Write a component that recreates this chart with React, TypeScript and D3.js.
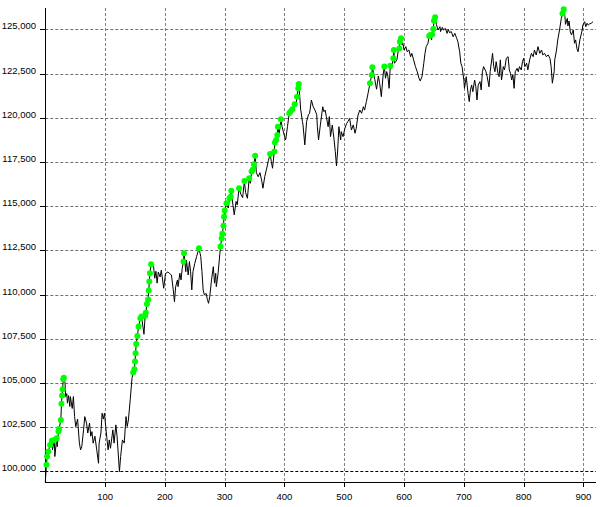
import React from "react";
import * as d3 from "d3";

// trade number (x) and account balance (y)
const tradeNo = [
	0, 2, 3, 5, 8, 11, 12, 15, 16, 19, 20, 22, 23, 26, 27, 28, 29, 30, 31, 33, 34, 36, 37, 39, 41, 42, 45, 47, 49,
	51, 54, 57, 59, 61, 64, 66, 69, 71, 74, 76, 78, 80, 83, 86, 89, 90, 93, 95, 97, 99, 101, 103, 105, 107, 109,
	113, 115, 118, 120, 124, 126, 129, 132, 135, 137, 139, 142, 145, 147, 149, 150, 151, 152, 154, 156, 159, 161,
	165, 167, 168, 170, 172, 173, 174, 175, 177, 181, 183, 185, 187, 189, 192, 194, 198, 201, 205, 208, 211, 214,
	216, 218, 221, 222, 225, 227, 229, 231, 232, 235, 236, 239, 241, 243, 245, 247, 250, 253, 257, 260, 262, 264,
	266, 269, 271, 273, 275, 278, 281, 283, 285, 286, 289, 292, 293, 295, 296, 298, 299, 300, 303, 306, 308, 310,
	311, 314, 316, 319, 321, 324, 327, 330, 333, 335, 338, 341, 343, 345, 347, 349, 351, 353, 356, 359, 362, 364,
	367, 370, 373, 376, 378, 380, 383, 384, 386, 388, 389, 391, 394, 396, 400, 402, 405, 408, 410, 413, 416, 417,
	419, 421, 423, 424, 426, 427, 430, 431, 434, 437, 440, 442, 445, 448, 451, 454, 455, 457, 460, 464, 466, 468,
	470, 473, 475, 477, 480, 483, 485, 487, 489, 491, 494, 495, 498, 501, 504, 506, 509, 512, 515, 518, 520, 523,
	526, 529, 532, 534, 537, 540, 543, 546, 547, 551, 554, 557, 559, 562, 565, 567, 569, 571, 573, 575, 577, 579,
	582, 583, 584, 586, 588, 590, 592, 593, 595, 597, 598, 600, 603, 605, 608, 611, 613, 616, 619, 622, 625, 627,
	630, 633, 635, 637, 640, 642, 644, 646, 647, 649, 650, 652, 654, 657, 660, 661, 664, 666, 669, 672, 674, 676,
	679, 682, 685, 688, 690, 693, 695, 697, 700, 701, 704, 707, 709, 711, 713, 715, 718, 720, 722, 724, 727, 729,
	731, 733, 737, 739, 742, 744, 748, 750, 752, 754, 757, 759, 761, 763, 766, 768, 771, 774, 776, 778, 780, 782,
	784, 786, 789, 791, 793, 796, 798, 800, 802, 805, 807, 810, 813, 816, 818, 821, 824, 827, 830, 832, 835, 838,
	841, 844, 846, 848, 851, 852, 855, 857, 860, 863, 865, 867, 869, 870, 873, 874, 876, 878, 880, 883, 885, 887,
	889, 891, 894, 896, 898, 899, 902, 904, 906, 908, 910, 913, 916,
];

const balance = [
	99420, 100370, 100840, 101120, 101500, 101740, 101220, 101780, 100840, 101880, 101400, 102250, 102400, 102910,
	103820, 104300, 104650, 105210, 105300, 104990, 104230, 104400, 103860, 104290, 103670, 104230, 103560, 104230,
	103100, 102530, 102960, 101600, 101220, 101400, 102350, 103100, 102730, 102170, 102730, 101990, 102250, 101600,
	101990, 101220, 100460, 101600, 102170, 103290, 102960, 103290, 102540, 101880, 101220, 101780, 101310, 102350,
	101600, 102630, 101990, 99990, 100840, 101780, 101600, 103100, 102540, 102910, 104050, 105270, 105590, 105780,
	106210, 106690, 107210, 107660, 108190, 108660, 108760, 107760, 108800, 108980, 109470, 109730, 110230, 110740,
	111210, 111720, 111600, 110930, 111320, 110650, 111280, 111000, 111380, 110360, 111190, 111280, 111190, 111110,
	110270, 109600, 110450, 110830, 110450, 111210, 110830, 111490, 111870, 112340, 111300, 111960, 111110, 111870,
	111300, 110270, 111300, 111770, 112150, 112620, 112150, 111300, 110270, 109980, 110070, 109730, 109510, 109880,
	110830, 111580, 110650, 111210, 110450, 111210, 112340, 112720, 113190, 113440, 113890, 114410, 114760, 115170,
	114900, 115450, 115540, 115870, 115020, 114510, 115270, 115080, 116020, 115680, 115490, 116430, 115770, 115450,
	116580, 116300, 116960, 117060, 117380, 117860, 116900, 116670, 116900, 116430, 116020, 116670, 117100, 117570,
	117960, 117530, 117150, 118090, 118600, 118750, 119030, 119500, 119030, 119920, 119500, 118970, 118750, 119500,
	120260, 120350, 120490, 120440, 120770, 120630, 121200, 121670, 121920, 121010, 120500, 119800, 119600, 118470,
	119800, 120170, 120260, 121010, 120630, 120440, 120170, 119500, 118750, 119600, 120630, 120350, 120440, 120070,
	119500, 120070, 118940, 119600, 118750, 118090, 117280, 118180, 119500, 118750, 119220, 118940, 119400, 119690,
	119790, 119970, 119310, 119600, 119130, 119410, 120160, 120440, 120260, 120630, 120440, 120920, 121420, 121960,
	122430, 122860, 122180, 121620, 122370, 122000, 121200, 122430, 122900, 122240, 122620, 122340, 121670, 122950,
	122800, 123370, 123840, 123090, 123180, 123280, 123750, 123930, 124310, 124500, 124120, 124220, 123840, 124030,
	123750, 123840, 123460, 123650, 123280, 122900, 122610, 122240, 122090, 122330, 123090, 123650, 124030, 124220,
	124630, 124690, 124410, 124720, 125030, 125500, 125690, 125290, 124970, 125160, 124880, 125120, 124970, 125060,
	124780, 125010, 124820, 124880, 124590, 124780, 124500, 124310, 123740, 123090, 122900, 122140, 121670, 122330,
	121390, 120920, 121580, 121860, 121480, 122140, 121760, 121010, 121860, 122050, 121580, 122610, 122900, 122610,
	122330, 121760, 122610, 123650, 122900, 122610, 123180, 122520, 122330, 123280, 122140, 122900, 122710, 123370,
	123460, 122710, 122520, 122140, 122430, 121670, 122610, 122800, 122610, 122900, 122710, 123180, 123370, 122900,
	123090, 122710, 123280, 123650, 123460, 123840, 123560, 124030, 123650, 123840, 123560, 123650, 123460, 123560,
	123370, 122900, 121960, 122610, 123280, 123840, 124400, 124970, 125630, 125910, 126140, 125730, 125290, 125630,
	125200, 125480, 124870, 124690, 124970, 124220, 124410, 123930, 123740, 124410, 124690, 124970, 125250, 125440,
	125160, 125350, 125250, 125310, 125350, 125440,
];

const xTicks = [100, 200, 300, 400, 500, 600, 700, 800, 900];
const yTicks = [100000, 102500, 105000, 107500, 110000, 112500, 115000, 117500, 120000, 122500, 125000];

const W = 600;
const H = 507;
const left = 45.3;
const right = 596;
const top = 8;
const bottom = 482;

export default function App() {
	const x = d3.scaleLinear().domain([0, 921]).range([left, right]);
	const y = d3.scaleLinear().domain([99400, 126215]).range([bottom, top]);

	const points = tradeNo.map((t, i) => ({ t, v: balance[i] }));

	const line = d3
		.line<{ t: number; v: number }>()
		.x((d) => x(d.t))
		.y((d) => y(d.v));

	// new equity highs get a green dot
	const highs: { t: number; v: number }[] = [];
	let peak = balance[0];
	points.forEach((p, i) => {
		if (i > 0 && p.v > peak) {
			highs.push(p);
		}
		peak = Math.max(peak, p.v);
	});

	const fmt = d3.format(",");
	const font = "'Liberation Sans', Arial, sans-serif";

	return (
		<svg
			width={W}
			height={H}
			style={{ position: "absolute", left: 0, top: 0, background: "#fff" }}
		>
			{/* vertical grid */}
			{xTicks.map((t) => (
				<line
					key={"vx" + t}
					x1={Math.round(x(t)) + 0.5}
					x2={Math.round(x(t)) + 0.5}
					y1={top}
					y2={bottom}
					stroke="#808080"
					strokeDasharray="3,2"
				/>
			))}
			{/* horizontal grid */}
			{yTicks.map((t) => (
				<line
					key={"hy" + t}
					x1={left}
					x2={right}
					y1={Math.round(y(t)) + 0.5}
					y2={Math.round(y(t)) + 0.5}
					stroke={t === 100000 ? "#000" : "#707070"}
					strokeDasharray="3,2"
				/>
			))}

			{/* axes */}
			<line x1={45.5} x2={45.5} y1={top} y2={bottom + 1} stroke="#000" />
			<line x1={45} x2={right} y1={bottom + 0.5} y2={bottom + 0.5} stroke="#000" />

			{xTicks.map((t) => (
				<g key={"xt" + t}>
					<line
						x1={Math.round(x(t)) + 0.5}
						x2={Math.round(x(t)) + 0.5}
						y1={bottom}
						y2={bottom + 5}
						stroke="#000"
					/>
					<text
						x={x(t)}
						y={500}
						textAnchor="middle"
						fontFamily={font}
						fontSize={9.5}
						fill="#000"
					>
						{t}
					</text>
				</g>
			))}
			{yTicks.map((t) => (
				<g key={"yt" + t}>
					<line
						x1={40}
						x2={45}
						y1={Math.round(y(t)) + 0.5}
						y2={Math.round(y(t)) + 0.5}
						stroke="#000"
					/>
					<text
						x={36}
						y={y(t)}
						textAnchor="end"
						fontFamily={font}
						fontSize={9.5}
						fill="#000"
					>
						{fmt(t)}
					</text>
				</g>
			))}

			<path d={line(points) || ""} fill="none" stroke="#000" strokeWidth={1} />

			{highs.map((p) => (
				<circle key={"h" + p.t} cx={x(p.t)} cy={y(p.v)} r={3} fill="#00ff00" />
			))}
		</svg>
	);
}
